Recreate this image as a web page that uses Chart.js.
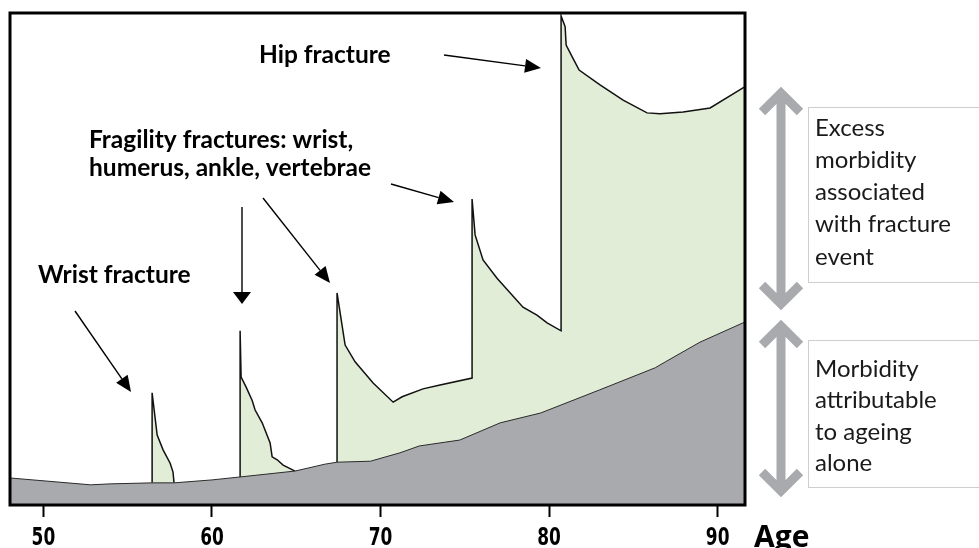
<!DOCTYPE html>
<html>
<head>
<meta charset="utf-8">
<script src="https://cdn.jsdelivr.net/npm/chart.js@4"></script>
<style>
  html, body { margin: 0; padding: 0; background: #fff; }
  #wrap { position: relative; width: 979px; height: 548px; }
</style>
</head>
<body>
<div id="wrap"><canvas id="chart"></canvas></div>
<script>
// morbidity index (0 = bottom of frame, 100 = top)
const ageTicks = [50, 60, 70, 80, 90];

const ageingAge   = [48.0, 52.8, 54.0, 56.45, 57.75, 60.0, 61.67, 64.93, 66.7, 67.42, 69.4, 71.15, 72.3, 74.7, 77.1, 79.5, 83.0, 86.3, 86.9, 88.95, 91.62];
const ageingLevel = [5.5, 4.1, 4.3, 4.5, 4.5, 5.1, 5.7, 6.9, 8.3, 8.7, 8.9, 10.6, 12.0, 13.2, 16.7, 18.7, 23.4, 27.9, 29.1, 33.1, 37.2];

const wristAge   = [56.45, 56.45, 56.75, 57.1, 57.52, 57.69, 57.75];
const wristLevel = [4.5, 22.8, 14.2, 11.2, 8.5, 6.7, 4.5];

const fragilityAge   = [61.67, 61.67, 61.73, 62.02, 62.38, 62.56, 62.98, 63.45, 63.57, 63.87, 64.22, 64.93];
const fragilityLevel = [5.7, 35.4, 26.0, 24.0, 21.3, 19.3, 16.7, 12.6, 9.8, 9.2, 8.1, 6.9];

const laterAge   = [67.42, 67.42, 67.9, 68.49, 69.56, 70.75, 71.28, 72.52, 73.53, 75.43, 75.43, 75.61, 76.08, 76.91, 78.45, 79.28, 79.88, 80.71,
                    80.71, 80.95, 81.01, 81.37, 81.78, 83.02, 84.39, 85.81, 86.58, 87.95, 89.55, 91.6];
const laterLevel = [8.7, 43.1, 32.5, 29.1, 24.8, 20.9, 22.0, 23.6, 24.4, 25.8, 62.2, 54.9, 49.8, 46.1, 40.2, 38.6, 37.0, 35.4,
                    99.4, 97.2, 93.5, 91.1, 88.4, 85.4, 82.3, 79.7, 79.5, 79.9, 80.7, 85.0];

const GREEN = "#e1edd6";
const GREY = "#a9aaad";

const pts = (xs, ys) => xs.map((x, i) => ({ x, y: ys[i] }));

function excessSet(xs, ys) {
  return {
    data: pts(xs, ys),
    borderColor: "#111",
    borderWidth: 1.5,
    backgroundColor: GREEN,
    fill: "origin",
    tension: 0,
    pointRadius: 0,
    order: 1,
  };
}

function arrow(ctx, x1, y1, x2, y2, len = 16, half = 7) {
  const a = Math.atan2(y2 - y1, x2 - x1);
  const bx = x2 - len * Math.cos(a), by = y2 - len * Math.sin(a);
  ctx.beginPath();
  ctx.moveTo(x1, y1);
  ctx.lineTo(bx, by);
  ctx.stroke();
  ctx.beginPath();
  ctx.moveTo(x2, y2);
  ctx.lineTo(bx + half * Math.sin(a), by - half * Math.cos(a));
  ctx.lineTo(bx - half * Math.sin(a), by + half * Math.cos(a));
  ctx.closePath();
  ctx.fill();
}

function greyArrow(ctx, x, top, bottom) {
  const head = 19;
  ctx.beginPath();
  ctx.moveTo(x, top);
  ctx.lineTo(x, bottom);
  ctx.moveTo(x - head, top + head);
  ctx.lineTo(x, top);
  ctx.lineTo(x + head, top + head);
  ctx.moveTo(x - head, bottom - head);
  ctx.lineTo(x, bottom);
  ctx.lineTo(x + head, bottom - head);
  ctx.stroke();
}

const decorations = {
  id: "decorations",
  afterDraw(chart) {
    const { ctx, chartArea: a } = chart;
    const xs = chart.scales.x;
    ctx.save();

    // frame
    ctx.strokeStyle = "#000";
    ctx.lineWidth = 3;
    ctx.strokeRect(a.left, a.top, a.right - a.left, a.bottom - a.top);

    // condensed tick labels
    ctx.fillStyle = "#000";
    ctx.textBaseline = "middle";
    ctx.textAlign = "center";
    ctx.font = "bold 25px 'DejaVu Sans', sans-serif";
    ageTicks.forEach(v => {
      ctx.save();
      ctx.translate(xs.getPixelForValue(v), 538);
      ctx.scale(0.68, 1);
      ctx.fillText(String(v), 0, 0);
      ctx.restore();
    });

    // annotation labels
    ctx.textAlign = "left";
    ctx.font = "bold 24.5px Lato, sans-serif";
    ctx.fillText("Hip fracture", 259, 55);
    ctx.fillText("Fragility fractures: wrist,", 89, 140);
    ctx.fillText("humerus, ankle, vertebrae", 89, 168);
    ctx.fillText("Wrist fracture", 38, 275);

    ctx.font = "bold 30px 'Open Sans', sans-serif";
    ctx.fillText("Age", 754, 538);

    // pointer arrows
    ctx.lineWidth = 1.4;
    ctx.strokeStyle = "#000";
    arrow(ctx, 444, 55, 541, 68);
    arrow(ctx, 242, 207, 242, 304, 12, 9);
    arrow(ctx, 263, 198, 330, 283);
    arrow(ctx, 391, 184, 454, 202);
    arrow(ctx, 75, 311, 131, 392);

    // grey range arrows
    ctx.strokeStyle = GREY;
    ctx.lineWidth = 9;
    ctx.lineJoin = "miter";
    greyArrow(ctx, 781, 93, 304);
    greyArrow(ctx, 781, 326, 491);

    // explanation boxes
    ctx.strokeStyle = "#cfcfcf";
    ctx.lineWidth = 1;
    ctx.strokeRect(808.5, 107.5, 200, 175);
    ctx.strokeRect(808.5, 340.5, 200, 147);

    ctx.fillStyle = "#1a1a1a";
    ctx.font = "24px Lato, sans-serif";
    ["Excess", "morbidity", "associated", "with fracture", "event"].forEach((t, i) => {
      ctx.fillText(t, 815, 128 + i * 32.2);
    });
    ["Morbidity", "attributable", "to ageing", "alone"].forEach((t, i) => {
      ctx.fillText(t, 815, 369 + i * 31.5);
    });

    ctx.restore();
  },
};

new Chart(document.getElementById("chart"), {
  type: "line",
  data: {
    datasets: [
      {
        data: pts(ageingAge, ageingLevel),
        borderColor: "#2b2b2b",
        borderWidth: 1,
        backgroundColor: GREY,
        fill: "origin",
        tension: 0,
        pointRadius: 0,
        order: 0,
      },
      excessSet(wristAge, wristLevel),
      excessSet(fragilityAge, fragilityLevel),
      excessSet(laterAge, laterLevel),
    ],
  },
  options: {
    responsive: true,
    maintainAspectRatio: false,
    animation: false,
    layout: { padding: { left: 10, top: 13, right: 234, bottom: 0 } },
    plugins: { legend: { display: false }, tooltip: { enabled: false } },
    scales: {
      x: {
        type: "linear",
        min: 48.02,
        max: 91.62,
        afterBuildTicks: s => { s.ticks = ageTicks.map(v => ({ value: v })); },
        afterFit: s => { s.height = 43; },
        border: { display: false },
        grid: { drawOnChartArea: false, drawTicks: true, tickLength: 12, tickWidth: 2, tickColor: "#000" },
        ticks: { display: false },
      },
      y: { display: false, min: 0, max: 100 },
    },
  },
  plugins: [decorations],
});
</script>
</body>
</html>
